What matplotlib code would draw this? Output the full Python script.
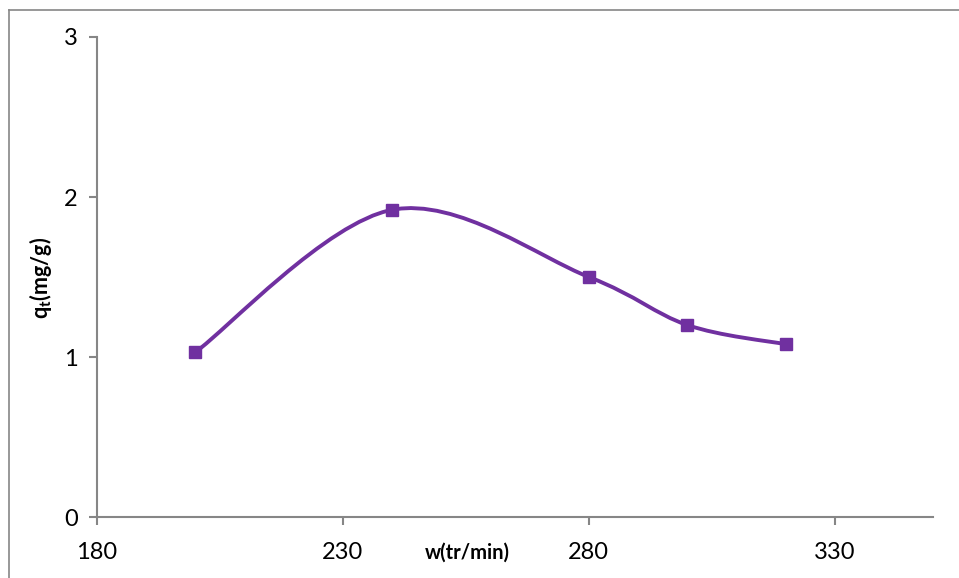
import numpy as np
import matplotlib.pyplot as plt
from matplotlib.lines import Line2D
from matplotlib.path import Path
from matplotlib.patches import PathPatch

plt.rcParams['font.family'] = ['Lato', 'DejaVu Sans']

# data
speed = [200, 240, 280, 300, 320]          # w (tr/min)
qt = [1.03, 1.92, 1.50, 1.20, 1.08]         # qt (mg/g)
x_ticks = [180, 230, 280, 330]
y_ticks = [0, 1, 2, 3]

purple = '#7030A0'
grey = '#868686'


def smooth_path(xs, ys):
    # excel-like smoothed line: cubic bezier through points (catmull-rom style)
    pts = np.column_stack([xs, ys]).astype(float)
    ext = np.vstack([pts[0], pts, pts[-1]])
    verts = [pts[0]]
    codes = [Path.MOVETO]
    for i in range(1, len(ext) - 2):
        p0, p1, p2, p3 = ext[i - 1], ext[i], ext[i + 1], ext[i + 2]
        c1 = p1 + (p2 - p0) / 6.0
        c2 = p2 - (p3 - p1) / 6.0
        verts += [c1, c2, p2]
        codes += [Path.CURVE4] * 3
    return Path(verts, codes)


fig = plt.figure(figsize=(9.59, 5.78), dpi=100)
ax = fig.add_axes([0.1011, 0.1055, 0.872, 0.8305])

ax.add_patch(PathPatch(smooth_path(speed, qt), fill=False, edgecolor=purple,
                       lw=2.8, capstyle='round', joinstyle='round'))
ax.plot(speed, qt, linestyle='none', marker='s', markersize=9,
        color=purple, zorder=3)

ax.set_xlim(180, 350)
ax.set_ylim(0, 3)
ax.set_xticks(x_ticks)
ax.set_yticks(y_ticks)

for s in ['top', 'right']:
    ax.spines[s].set_visible(False)
for s in ['left', 'bottom']:
    ax.spines[s].set_color(grey)
    ax.spines[s].set_linewidth(1.5)

ax.tick_params(axis='both', colors=grey, length=6, width=1.5, labelsize=17,
               labelcolor='black')
ax.tick_params(axis='x', pad=12)
ax.tick_params(axis='y', pad=8)

fig.text(0.487, 0.043, 'w(tr/min)', fontsize=14.5, fontweight='bold',
         ha='center', va='center')
fig.text(0.042, 0.52, r'q$_\mathregular{t}$(mg/g)', fontsize=15.5, fontweight='bold',
         rotation=90, ha='center', va='center')

# outer chart border (only top and left visible in the crop)
fig.add_artist(Line2D([0.009, 0.009], [0.0, 0.983], color=grey, lw=1.2,
                      transform=fig.transFigure))
fig.add_artist(Line2D([0.009, 1.0], [0.983, 0.983], color=grey, lw=1.2,
                      transform=fig.transFigure))

fig.savefig('out.png', dpi=100)
